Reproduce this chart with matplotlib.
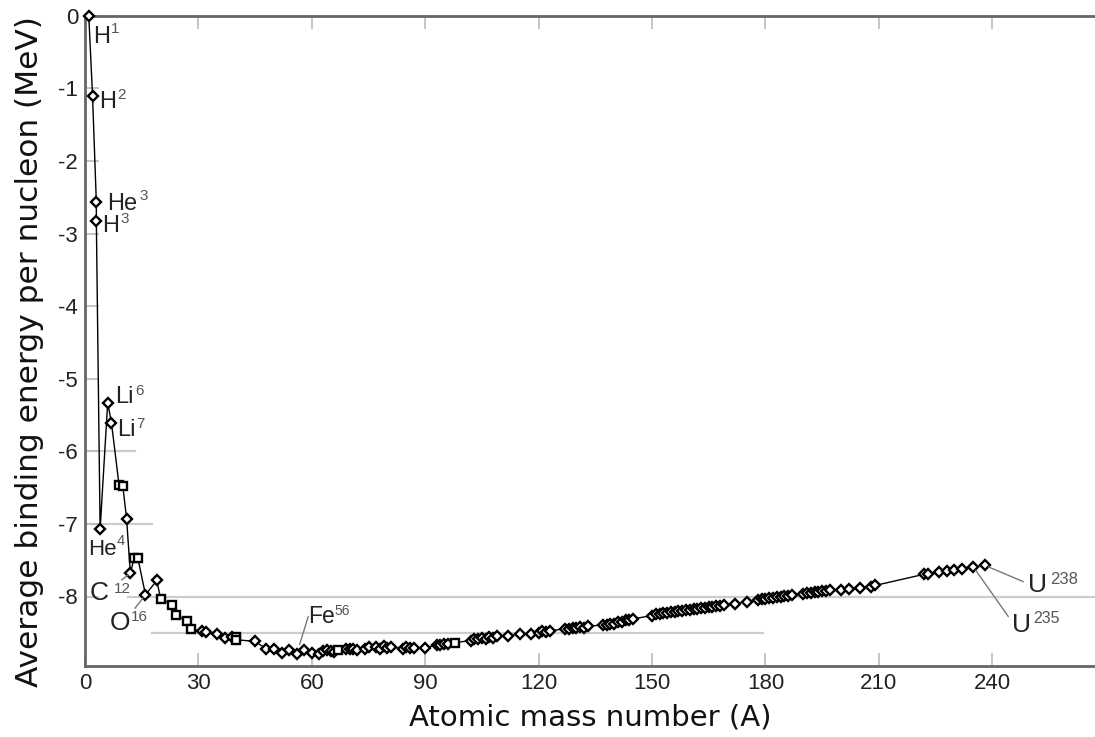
import matplotlib
matplotlib.use("Agg")
import matplotlib.pyplot as plt

# ---------------- data ----------------
mass_number = [1, 2, 3, 3, 4, 6, 7, 9, 10, 11, 12, 13, 14, 16, 19, 20, 23, 24, 27, 28,
               31, 32, 35, 37, 39, 40, 40, 45, 48, 50, 52, 54, 56, 58, 60, 62, 63, 64,
               65, 66, 67, 69, 70, 71, 72, 74, 75, 77, 78, 79, 80, 81, 84, 85, 86, 87,
               90, 93, 94, 95, 96, 98, 102, 103, 104, 105, 106, 107, 108, 109, 112, 115,
               118, 120, 121, 122, 123, 127, 128, 129, 130, 131, 132, 133, 137, 138, 139,
               140, 141, 142, 143, 144, 145, 150, 151, 152, 153, 154, 155, 156, 157, 158,
               159, 160, 161, 162, 163, 164, 165, 166, 167, 168, 169, 172, 175, 178, 179,
               180, 181, 182, 183, 184, 185, 186, 187, 190, 191, 192, 193, 194, 195, 196,
               197, 200, 202, 205, 208, 209, 222, 223, 226, 228, 230, 232, 235, 238]

binding_energy = [0.0, -1.112, -2.573, -2.827, -7.074, -5.332, -5.606, -6.463, -6.475,
                  -6.928, -7.680, -7.470, -7.476, -7.976, -7.779, -8.032, -8.112, -8.261,
                  -8.332, -8.448, -8.481, -8.493, -8.520, -8.570, -8.557, -8.551, -8.595,
                  -8.619, -8.723, -8.720, -8.776, -8.736, -8.790, -8.732, -8.781, -8.795,
                  -8.752, -8.736, -8.757, -8.760, -8.734, -8.725, -8.730, -8.718, -8.732,
                  -8.725, -8.701, -8.695, -8.718, -8.688, -8.711, -8.696, -8.717, -8.697,
                  -8.712, -8.705, -8.710, -8.664, -8.667, -8.649, -8.654, -8.635, -8.607,
                  -8.584, -8.587, -8.571, -8.580, -8.554, -8.567, -8.548, -8.545, -8.514,
                  -8.517, -8.505, -8.482, -8.488, -8.472, -8.445, -8.443, -8.431, -8.438,
                  -8.424, -8.428, -8.410, -8.392, -8.394, -8.378, -8.376, -8.354, -8.347,
                  -8.330, -8.327, -8.309, -8.262, -8.240, -8.244, -8.229, -8.227, -8.213,
                  -8.215, -8.204, -8.202, -8.189, -8.184, -8.173, -8.174, -8.162, -8.159,
                  -8.147, -8.142, -8.132, -8.130, -8.115, -8.097, -8.069, -8.049, -8.039,
                  -8.035, -8.023, -8.018, -8.008, -8.005, -7.991, -7.989, -7.978, -7.963,
                  -7.948, -7.948, -7.938, -7.936, -7.927, -7.927, -7.916, -7.906, -7.897,
                  -7.878, -7.868, -7.848, -7.694, -7.685, -7.662, -7.642, -7.631, -7.615,
                  -7.591, -7.570]

square_mass_numbers = [9, 10, 13, 14, 20, 23, 24, 27, 28, 40, 67, 98]

x_ticks = [0, 30, 60, 90, 120, 150, 180, 210, 240]
y_ticks = [0, -1, -2, -3, -4, -5, -6, -7, -8]

# labelled isotopes: (symbol, superscript, mass number)
isotope_labels = [("H", "1", 1), ("H", "2", 2), ("He", "3", 3), ("H", "3", 3),
                  ("He", "4", 4), ("Li", "6", 6), ("Li", "7", 7), ("C", "12", 12),
                  ("O", "16", 16), ("Fe", "56", 56), ("U", "235", 235), ("U", "238", 238)]

x_label = "Atomic mass number (A)"
y_label = "Average binding energy per nucleon (MeV)"

# ---------------- figure ----------------
plt.rcParams["axes.unicode_minus"] = False
W, H = 1095, 737
fig = plt.figure(figsize=(W / 100, H / 100), dpi=100)
left_px, top_px, bottom_px = 85, 15.7, 666
ax = fig.add_axes([left_px / W, 1 - bottom_px / H, 1 - left_px / W, (bottom_px - top_px) / H])
px_per_x = 3.78
px_per_y = 72.6
ax.set_xlim(0, (W - left_px) / px_per_x)
ax.set_ylim(-(bottom_px - top_px) / px_per_y, 0)

# partial guide lines
guide = dict(color="#cccccc", lw=1.6, zorder=1)
ax.plot([0, 13.2], [-6, -6], **guide)
ax.plot([0, 17.7], [-7, -7], **guide)
ax.plot([11.4, 300], [-8, -8], **guide)
ax.plot([17.7, 179.4], [-8.5, -8.5], **guide)

ax.plot(mass_number, binding_energy, color="black", lw=1.0, zorder=3, clip_on=False)

sq_x = [a for a in mass_number if a in square_mass_numbers]
sq_y = [e for a, e in zip(mass_number, binding_energy) if a in square_mass_numbers]
dm_x = [a for a in mass_number if a not in square_mass_numbers]
dm_y = [e for a, e in zip(mass_number, binding_energy) if a not in square_mass_numbers]
ax.plot(dm_x, dm_y, ls="none", marker="D", ms=5.6, mfc="white", mec="black",
        mew=1.7, zorder=4, clip_on=False)
ax.plot(sq_x, sq_y, ls="none", marker="s", ms=6.2, mfc="white", mec="black",
        mew=1.7, zorder=4, clip_on=False)

# label placement: main (dx, dy baseline offset px, size), superscript (gap, rise, size)
placements = {
    "H1": (4, -27, 17, 1.5, 10, 11),
    "H2": (6.4, -11.6, 17, 1.0, 8.7, 11),
    "He3": (10.7, -7.5, 17, 2.5, 10, 11),
    "H3": (5.7, -11, 17, 1.5, 8.7, 11),
    "He4": (-12, -25.7, 16, 0.5, 10, 10.5),
    "Li6": (7.3, -0.3, 17, 1.5, 8.3, 11),
    "Li7": (5.7, -13.3, 17, 1.0, 8.3, 11),
    "C12": (-40.4, -26.7, 19, 5.0, 6.7, 11),
    "O16": (-35.5, -35.2, 19, 0.5, 8.3, 11),
    "Fe56": (11.3, 31, 16.5, 0.0, 8, 10),
    "U235": (38.7, -65, 19, 2.0, 8, 11.5),
    "U238": (43.4, -26.7, 19, 3.5, 7, 12),
}
leaders = {
    "C12": (-8.7, -6.7, 2),
    "O16": (-10.5, -13.5, 3),
    "Fe56": (11.6, 37.3, 7),
    "U235": (35, -49.7, 3),
    "U238": (38.7, -16.4, 3),
}
font = "Liberation Sans"
used = set()
for sym, sup, a in isotope_labels:
    idx = [i for i, m in enumerate(mass_number) if m == a and i not in used][0]
    used.add(idx)
    key = sym + sup
    xy = (mass_number[idx], binding_energy[idx])
    mdx, mdy, msz, gap, rise, ssz = placements[key]
    t = ax.annotate(sym, xy, xytext=(mdx, mdy), textcoords="offset pixels",
                    ha="left", va="baseline", fontsize=msz, family=font, color="#222222",
                    zorder=6, annotation_clip=False)
    desc = 0.212 * msz * 100 / 72
    ax.annotate(sup, xy=(1, 0), xycoords=t, xytext=(gap, rise + desc),
                textcoords="offset pixels", ha="left", va="baseline", fontsize=ssz,
                family=font, color="#555555", zorder=6, annotation_clip=False)
    if key in leaders:
        ldx, ldy, shr = leaders[key]
        ax.annotate("", xy, xytext=(ldx, ldy), textcoords="offset pixels",
                    arrowprops=dict(arrowstyle="-", color="#777777", lw=1.0,
                                    shrinkA=0, shrinkB=shr),
                    annotation_clip=False, zorder=5)

# axes styling
for side in ["left", "top", "bottom"]:
    ax.spines[side].set_color("#666666")
    ax.spines[side].set_linewidth(2.0)
ax.spines["right"].set_visible(False)
ax.set_xticks(x_ticks)
ax.set_yticks(y_ticks)
ax.set_xticklabels([str(t) for t in x_ticks], family=font, fontsize=16, color="#222222")
ax.set_yticklabels([str(t) for t in y_ticks], family=font, fontsize=16, color="#222222")
ax.tick_params(axis="x", direction="in", length=9.5, width=1.2, color="#bbbbbb",
               pad=5, top=True)
ax.tick_params(axis="y", direction="in", length=10, width=1.2, color="#bbbbbb", pad=5)
ax.set_xlabel(x_label, family="DejaVu Sans", fontsize=21, color="#111111", labelpad=7)
ax.set_ylabel(y_label, family="DejaVu Sans", fontsize=22.5, color="#111111")
ax.yaxis.set_label_coords(-(85 - 44) / (W - left_px), (bottom_px - 352) / (bottom_px - top_px))

fig.savefig("out.png", dpi=100)
